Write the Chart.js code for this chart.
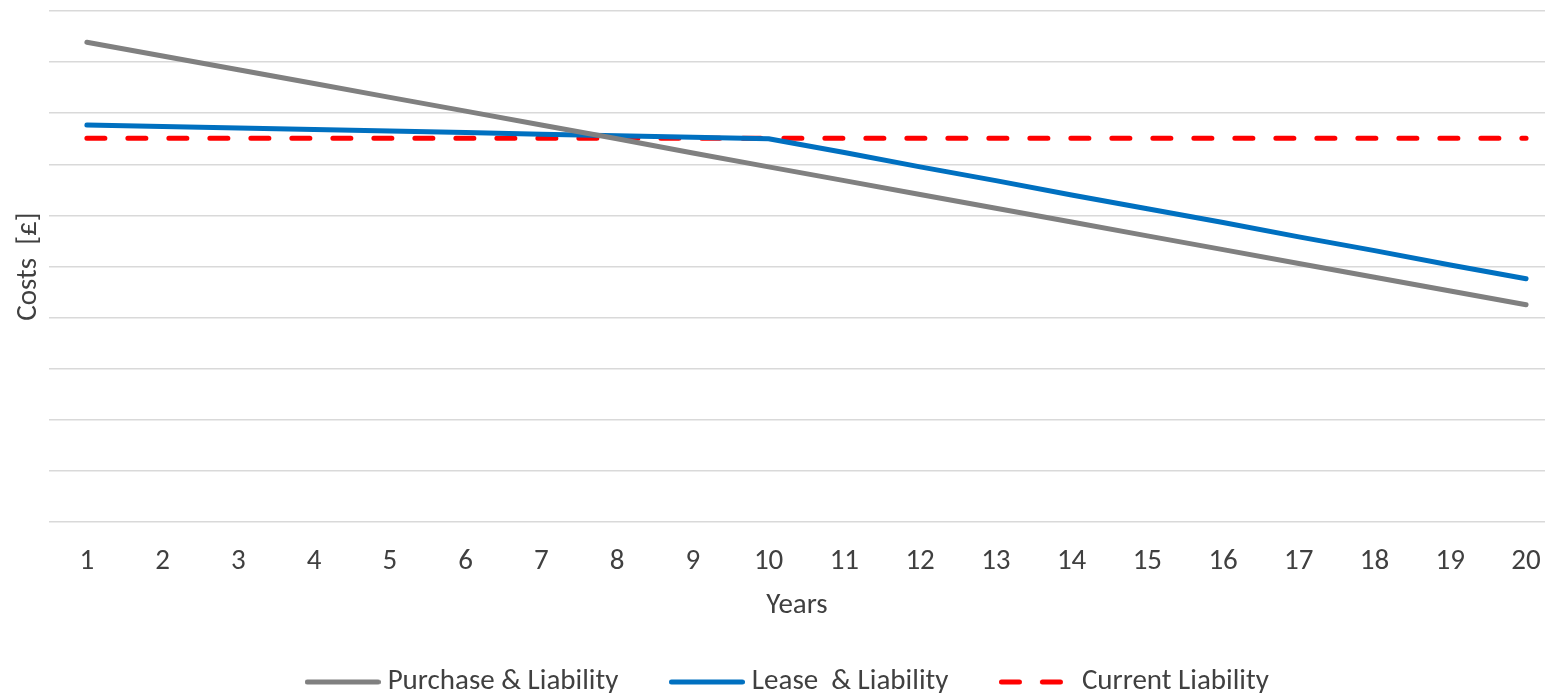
<!DOCTYPE html>
<html>
<head>
<meta charset="utf-8">
<script src="https://cdn.jsdelivr.net/npm/chart.js@4/dist/chart.umd.min.js"></script>
<style>
  html, body { margin: 0; padding: 0; background: #ffffff; }
  #wrap { width: 1545px; height: 693px; position: relative; }
</style>
</head>
<body>
<div id="wrap"><canvas id="c" width="1545" height="693"></canvas></div>
<script>
const years = [1,2,3,4,5,6,7,8,9,10,11,12,13,14,15,16,17,18,19,20];
const purchaseLiability = [9.39,9.12,8.85,8.58,8.31,8.04,7.77,7.50,7.22,6.95,6.68,6.41,6.14,5.87,5.60,5.33,5.06,4.79,4.52,4.25];
const leaseLiability = [7.77,7.74,7.71,7.68,7.65,7.62,7.59,7.56,7.53,7.50,7.23,6.95,6.68,6.40,6.13,5.86,5.58,5.31,5.03,4.76];
const currentLiability = [7.51,7.51,7.51,7.51,7.51,7.51,7.51,7.51,7.51,7.51,7.51,7.51,7.51,7.51,7.51,7.51,7.51,7.51,7.51,7.51];
const seriesNames = ['Purchase & Liability', 'Lease  & Liability', 'Current Liability'];
const seriesColors = ['#808080', '#0070C0', '#FF0000'];
const xTitle = 'Years';
const yTitle = 'Costs  [£]';

const FONT = 'Carlito, Lato, "Open Sans", sans-serif';
const FS = 29;
const TXT = '#404040';
const LW = 5;
const DASH = [18, 23];

const toXY = arr => arr.map((v, i) => ({x: years[i], y: v}));

function legendMarker(color, dash) {
  const c = document.createElement('canvas');
  c.width = 76; c.height = 8;
  const g = c.getContext('2d');
  g.strokeStyle = color; g.lineWidth = LW; g.lineCap = 'round';
  if (dash) g.setLineDash(dash);
  g.beginPath(); g.moveTo(2.5, 4); g.lineTo(73.5, 4); g.stroke();
  return c;
}

new Chart(document.getElementById('c'), {
  type: 'line',
  data: {
    datasets: [
      { label: seriesNames[0], data: toXY(purchaseLiability), borderColor: seriesColors[0], backgroundColor: seriesColors[0],
        borderWidth: LW, borderCapStyle: 'round', borderJoinStyle: 'round', pointRadius: 0, tension: 0,
        pointStyle: legendMarker(seriesColors[0], null) },
      { label: seriesNames[1], data: toXY(leaseLiability), borderColor: seriesColors[1], backgroundColor: seriesColors[1],
        borderWidth: LW, borderCapStyle: 'round', borderJoinStyle: 'round', pointRadius: 0, tension: 0,
        pointStyle: legendMarker(seriesColors[1], null) },
      { label: seriesNames[2], data: toXY(currentLiability), borderColor: seriesColors[2], backgroundColor: seriesColors[2],
        borderWidth: LW, borderCapStyle: 'round', borderDash: DASH, pointRadius: 0, tension: 0,
        pointStyle: legendMarker(seriesColors[2], DASH) }
    ]
  },
  options: {
    responsive: false,
    animation: false,
    layout: { padding: { top: 11, right: 0, left: 36, bottom: -13.5 } },
    plugins: {
      tooltip: { enabled: false },
      legend: {
        position: 'bottom',
        labels: {
          usePointStyle: true,
          pointStyleWidth: 61,
          boxHeight: 8,
          padding: 58,
          color: TXT,
          font: { family: FONT, size: FS }
        }
      }
    },
    scales: {
      x: {
        type: 'linear',
        min: 0.5,
        max: 20.25,
        afterBuildTicks: s => { s.ticks = years.map(v => ({ value: v })); },
        afterFit: s => { s.height = 87.5; s.paddingLeft = 0; s.paddingRight = 0; },
        grid: { display: false, drawTicks: false },
        border: { display: false },
        ticks: { color: TXT, font: { family: FONT, size: FS }, padding: 22, maxRotation: 0, autoSkip: false },
        title: { display: true, text: xTitle, color: TXT, font: { family: FONT, size: FS }, padding: { top: 0, bottom: -14 } }
      },
      y: {
        min: 0,
        max: 10,
        afterFit: s => { s.width = 13; s.paddingTop = 0; s.paddingBottom = 0; },
        grid: { color: '#d9d9d9', lineWidth: 1.5, drawTicks: false },
        border: { display: false },
        ticks: { display: false, stepSize: 1 },
        title: { display: true, text: yTitle, color: TXT, font: { family: FONT, size: FS }, padding: { top: -24.4, bottom: 0 } }
      }
    }
  }
});
</script>
</body>
</html>
